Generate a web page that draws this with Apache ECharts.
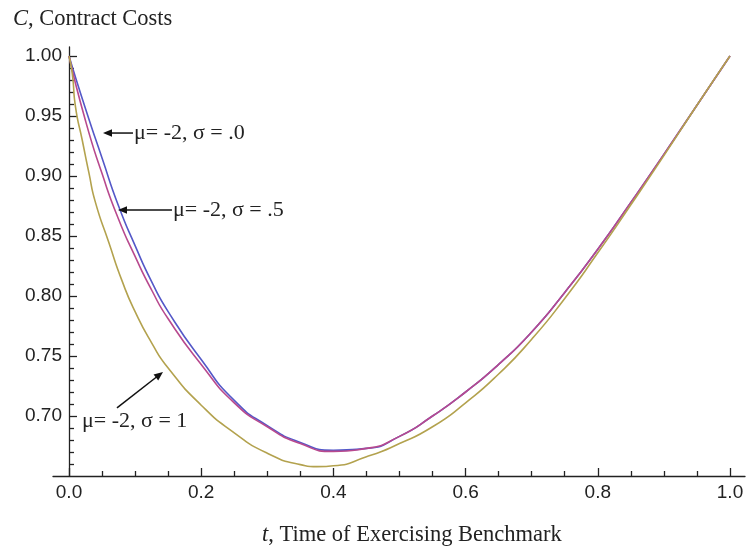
<!DOCTYPE html>
<html>
<head>
<meta charset="utf-8">
<script src="https://cdn.jsdelivr.net/npm/echarts@6/dist/echarts.min.js"></script>
<style>html,body{margin:0;padding:0;background:#fff;}#c{width:746px;height:552px;}</style>
</head>
<body>
<div id="c"></div>
<script>
// ---- data ----
const tBlue = [0, 0.025, 0.05, 0.075, 0.1, 0.125, 0.15, 0.2, 0.25, 0.3, 0.35, 0.4, 0.45, 0.5, 0.55, 0.6, 0.65, 0.7, 0.75, 0.8, 0.85, 0.9, 0.95, 1.0];
const cBlue = [1.000, 0.956, 0.915, 0.875, 0.842, 0.812, 0.787, 0.747, 0.713, 0.692, 0.678, 0.6715, 0.673, 0.683, 0.700, 0.720, 0.743, 0.770, 0.803, 0.839, 0.878, 0.918, 0.959, 1.000];
const tMag = [0, 0.025, 0.05, 0.075, 0.1, 0.125, 0.15, 0.2, 0.25, 0.3, 0.35, 0.4, 0.45, 0.5, 0.55, 0.6, 0.65, 0.7, 0.75, 0.8, 0.85, 0.9, 0.95, 1.0];
const cMag = [1.000, 0.946, 0.902, 0.864, 0.833, 0.805, 0.781, 0.743, 0.711, 0.691, 0.677, 0.6705, 0.673, 0.683, 0.700, 0.720, 0.743, 0.770, 0.803, 0.839, 0.878, 0.918, 0.959, 1.000];
const tOlive = [0, 0.005, 0.01, 0.02, 0.03, 0.04, 0.06, 0.08, 0.1, 0.125, 0.15, 0.2, 0.25, 0.3, 0.35, 0.375, 0.4, 0.45, 0.5, 0.55, 0.6, 0.65, 0.7, 0.75, 0.8, 0.85, 0.9, 0.95, 1.0];
const cOlive = [1.000, 0.985, 0.957, 0.930, 0.903, 0.878, 0.845, 0.813, 0.787, 0.761, 0.740, 0.709, 0.686, 0.669, 0.6595, 0.6578, 0.6585, 0.666, 0.677, 0.691, 0.711, 0.735, 0.764, 0.798, 0.836, 0.876, 0.917, 0.959, 1.000];

const xMajor = [0, 0.2, 0.4, 0.6, 0.8, 1.0];
const xMinor = [0.05, 0.1, 0.15, 0.25, 0.3, 0.35, 0.45, 0.5, 0.55, 0.65, 0.7, 0.75, 0.85, 0.9, 0.95];
const yMajor = [0.70, 0.75, 0.80, 0.85, 0.90, 0.95, 1.00];
const yMinor = [0.66, 0.67, 0.68, 0.69, 0.71, 0.72, 0.73, 0.74, 0.76, 0.77, 0.78, 0.79, 0.81, 0.82, 0.83, 0.84, 0.86, 0.87, 0.88, 0.89, 0.91, 0.92, 0.93, 0.94, 0.96, 0.97, 0.98, 0.99];

const annTexts = ['μ= -2, σ = .0', 'μ= -2, σ = .5', 'μ= -2, σ = 1'];
const annTextPos = [[0.0983, 0.9358], [0.1573, 0.8717], [0.0197, 0.6958]];
const arrowFrom = [[0.0968, 0.9358], [0.1558, 0.8717], [0.0726, 0.7067]];
const arrowTo = [[0.0514, 0.9358], [0.0741, 0.8717], [0.1422, 0.7367]];

const zip = (a, b) => a.map((v, i) => [v, b[i]]);

const labelFont = { fontFamily: 'Liberation Sans', fontSize: 19, color: '#222' };
const axisLineStyle = { color: '#222', width: 1.3 };

const chart = echarts.init(document.getElementById('c'));
chart.setOption({
  animation: false,
  backgroundColor: '#fff',
  title: [
    { text: '{i|C}, Contract Costs', left: 13, top: 8, padding: 0,
      textStyle: { fontFamily: 'Liberation Serif', fontSize: 22.5, fontWeight: 'normal', color: '#222',
        rich: { i: { fontFamily: 'Liberation Serif', fontSize: 22.5, fontStyle: 'italic', color: '#222' } } } },
    { text: '{i|t}, Time of Exercising Benchmark', left: 262, top: 524, padding: 0,
      textStyle: { fontFamily: 'Liberation Serif', fontSize: 22.5, fontWeight: 'normal', color: '#222',
        rich: { i: { fontFamily: 'Liberation Serif', fontSize: 22.5, fontStyle: 'italic', color: '#222' } } } }
  ],
  grid: { left: 53, right: 1, top: 47, bottom: 76, containLabel: false, outerBoundsMode: 'none' },
  xAxis: [
    { type: 'value', min: -0.0242, max: 1.0227, position: 'bottom',
      axisLine: { show: true, onZero: false, lineStyle: axisLineStyle },
      axisTick: { show: true, inside: true, length: 8, lineStyle: axisLineStyle, customValues: xMajor },
      axisLabel: { show: true, margin: 7, ...labelFont, customValues: xMajor, formatter: v => v.toFixed(1) },
      splitLine: { show: false } },
    { type: 'value', min: -0.0242, max: 1.0227, position: 'bottom',
      axisLine: { show: false, onZero: false },
      axisTick: { show: true, inside: true, length: 5, lineStyle: axisLineStyle, customValues: xMinor },
      axisLabel: { show: false },
      splitLine: { show: false } }
  ],
  yAxis: [
    { type: 'value', min: 0.65, max: 1.0075, position: 'left', offset: -16,
      axisLine: { show: true, onZero: false, lineStyle: axisLineStyle },
      axisTick: { show: true, inside: true, length: 8, lineStyle: axisLineStyle, customValues: yMajor },
      axisLabel: { show: true, margin: 7, ...labelFont, customValues: yMajor, formatter: v => v.toFixed(2) },
      splitLine: { show: false } },
    { type: 'value', min: 0.65, max: 1.0075, position: 'left', offset: -16,
      axisLine: { show: false, onZero: false },
      axisTick: { show: true, inside: true, length: 5, lineStyle: axisLineStyle, customValues: yMinor },
      axisLabel: { show: false },
      splitLine: { show: false } }
  ],
  series: [
    { name: 'σ = 0', type: 'line', xAxisIndex: 0, yAxisIndex: 0, data: zip(tBlue, cBlue), symbol: 'none',
      smooth: 0.6, lineStyle: { color: '#5458c8', width: 1.6 } },
    { name: 'σ = .5', type: 'line', xAxisIndex: 0, yAxisIndex: 0, data: zip(tMag, cMag), symbol: 'none',
      smooth: 0.6, lineStyle: { color: '#b8498e', width: 1.6 } },
    { name: 'σ = 1', type: 'line', xAxisIndex: 0, yAxisIndex: 0, data: zip(tOlive, cOlive), symbol: 'none',
      smooth: 0.6, lineStyle: { color: '#b3a24e', width: 1.6 } }
  ]
});

// annotations placed in data coordinates
const px = p => chart.convertToPixel({ xAxisIndex: 0, yAxisIndex: 0 }, p);
const g = [];
annTexts.forEach((txt, i) => {
  const tp = px(annTextPos[i]);
  g.push({ type: 'text', z: 100, style: { x: tp[0], y: tp[1], text: txt, fill: '#222',
    font: '22px "Liberation Serif"', verticalAlign: 'middle', align: 'left' } });
  const a = px(arrowFrom[i]), b = px(arrowTo[i]);
  const dx = b[0] - a[0], dy = b[1] - a[1], L = Math.hypot(dx, dy);
  const ux = dx / L, uy = dy / L, nx = -uy, ny = ux;
  const hl = 9, hw = 3.8;
  const base = [b[0] - ux * hl, b[1] - uy * hl];
  g.push({ type: 'line', z: 100, shape: { x1: a[0], y1: a[1], x2: base[0] + ux * 2, y2: base[1] + uy * 2 },
    style: { stroke: '#111', lineWidth: 1.5 } });
  g.push({ type: 'polygon', z: 100, shape: { points: [b, [base[0] + nx * hw, base[1] + ny * hw], [base[0] - nx * hw, base[1] - ny * hw]] },
    style: { fill: '#111' } });
});
chart.setOption({ graphic: g });
</script>
</body>
</html>
